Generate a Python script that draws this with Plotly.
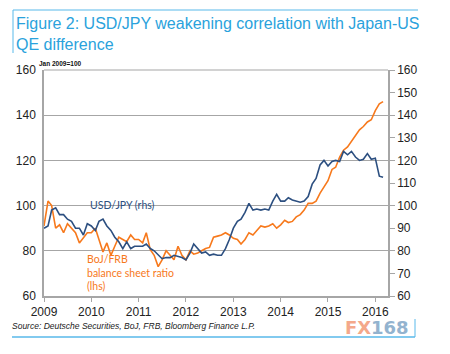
import plotly.graph_objects as go
import pandas as pd

dates = pd.date_range("2009-01-01", "2016-03-01", freq="MS")

usdjpy = [
    90, 91, 98, 99, 96, 96, 94, 93, 90, 90, 87, 92,          # 2009
    91, 89, 93, 94, 91, 89, 86, 84, 81, 84, 81, 82,          # 2010
    82, 82, 83, 81, 80, 78, 76.5, 77, 77, 78, 77.5, 77,      # 2011
    76, 79, 83, 81, 79, 79.5, 78, 78.5, 78, 78, 81, 85,      # 2012
    90, 93, 94, 97, 101, 98, 98.5, 98, 98.5, 98, 102, 105,   # 2013
    102, 102, 103.5, 102.5, 102, 101.5, 102, 104, 109.5, 112, 118, 120,  # 2014
    117.5, 119.5, 120, 119.5, 124, 122.5, 124, 121.5, 120, 120.5, 123, 120.5,  # 2015
    121, 113, 112.5,                                         # 2016
]

boj_frb = [
    91, 102, 100, 90, 91.5, 88, 92, 90, 88, 83.5, 86, 88,    # 2009
    88, 90, 85, 79.5, 83.5, 78, 82, 86, 85, 84, 87, 85,      # 2010
    85, 83.5, 88, 80.5, 78, 73, 76, 80, 78, 76, 82, 78,      # 2011
    76, 80, 78.5, 79, 80, 81, 81.5, 86, 86.5, 87, 88, 87,    # 2012
    85.5, 85, 83, 85, 88, 87, 89, 91, 90.5, 91, 92, 90,      # 2013
    91.5, 93.5, 92.5, 93, 95, 96, 98, 101, 101, 102, 105.5, 108,  # 2014
    111, 116, 117, 121.5, 124.5, 126, 128.5, 131, 133.5, 135, 137, 138,  # 2015
    142, 145, 146,                                           # 2016
]

year_ticks = [f"{y}-01-01" for y in range(2009, 2017)]
year_labels = [str(y) for y in range(2009, 2017)]
left_ticks = [60, 80, 100, 120, 140, 160]
right_ticks = [60, 70, 80, 90, 100, 110, 120, 130, 140, 150, 160]

BLUE = "#2c4f80"
ORANGE = "#f7791c"
GRID = "#a6a6a6"
TITLE_C = "#2aa2dc"
FRAME_C = "#58b9ea"

fig = go.Figure()
fig.add_trace(go.Scatter(x=dates, y=boj_frb, mode="lines", line=dict(color=ORANGE, width=1.6),
                         yaxis="y", showlegend=False))
fig.add_trace(go.Scatter(x=dates, y=usdjpy, mode="lines", line=dict(color=BLUE, width=1.6),
                         yaxis="y2", showlegend=False))

L, R, T, B = 44, 62, 70, 58
W, H = 450, 354
pw, ph = W - L - R, H - T - B

def px(x):
    return (x - L) / pw

def py(y):
    return (H - B - y) / ph

fig.update_layout(
    width=W, height=H,
    margin=dict(l=L, r=R, t=T, b=B),
    paper_bgcolor="white", plot_bgcolor="white",
    font=dict(family="Liberation Sans, Arial, sans-serif", size=12, color="#333"),
    xaxis=dict(type="date", range=["2009-01-01", "2016-04-08"],
               tickvals=year_ticks, ticktext=year_labels,
               ticks="outside", ticklen=4, tickcolor=GRID,
               showline=True, linecolor=GRID, linewidth=1.5,
               showgrid=False, zeroline=False, ticklabelstandoff=0,
               tickfont=dict(size=12, color="#222")),
    yaxis=dict(range=[60, 160], tickvals=left_ticks,
               ticks="", ticklabelstandoff=4,
               showline=True, linecolor=GRID, linewidth=1.5,
               showgrid=True, gridcolor=GRID, gridwidth=1.2,
               zeroline=False, tickfont=dict(size=12, color="#222")),
    yaxis2=dict(range=[60, 160], tickvals=right_ticks, overlaying="y", side="right",
                ticks="outside", ticklen=5, tickcolor=GRID,
                showline=True, linecolor=GRID, linewidth=1.5,
                showgrid=False, zeroline=False, tickfont=dict(size=12, color="#222")),
)

fig.add_shape(type="line", xref="paper", yref="paper", x0=0, x1=1, y0=1, y1=1,
              line=dict(color=GRID, width=1.2))
fig.add_shape(type="line", xref="paper", yref="paper", x0=px(13), x1=px(418), y0=py(10), y1=py(10),
              line=dict(color=FRAME_C, width=1))
fig.add_shape(type="line", xref="paper", yref="paper", x0=px(13), x1=px(13), y0=py(10), y1=py(53),
              line=dict(color=FRAME_C, width=1))
fig.add_shape(type="line", xref="paper", yref="paper", x0=px(12), x1=px(415), y0=py(337), y1=py(337),
              line=dict(color=FRAME_C, width=1.5))
fig.add_shape(type="line", xref="paper", yref="paper", x0=px(415), x1=px(415), y0=py(319), y1=py(337),
              line=dict(color=FRAME_C, width=1))


def note(text, x, y, size, color, family="Liberation Sans, Arial, sans-serif", xanchor="left"):
    fig.add_annotation(text=text, x=px(x), y=py(y), xref="paper", yref="paper",
                       xanchor=xanchor, yanchor="middle", align="left", showarrow=False,
                       borderpad=0, font=dict(size=size, color=color, family=family))


note("Figure 2: USD/JPY weakening correlation with Japan-US", 15, 24, 16, TITLE_C)
note("QE difference", 15, 44, 16, TITLE_C)
note("<b>Jan 2009=100</b>", 38, 64, 6.5, "#111")
note("USD/JPY (rhs)", 89, 205, 10.5, BLUE, "Lato, sans-serif")
note("BoJ/FRB<br>balance sheet ratio<br>(lhs)", 86, 272, 10.5, ORANGE, "Lato, sans-serif")
note("<i>Source: Deutsche Securities, BoJ, FRB, Bloomberg Finance L.P.</i>", 11, 326, 8.5, "#222")
note("<b>FX</b>", 372, 327, 18, "#f4a88a", "DejaVu Sans, sans-serif", xanchor="right")
note("<b>168</b>", 370, 327, 18, "#93b3cf", "DejaVu Sans, sans-serif", xanchor="left")

fig.write_html("out.html")
